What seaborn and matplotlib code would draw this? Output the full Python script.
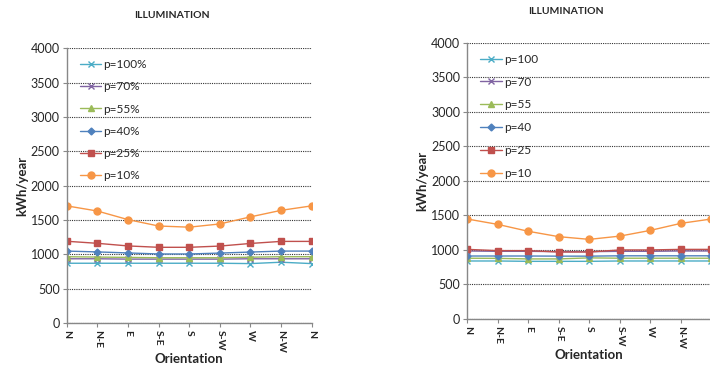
import matplotlib
matplotlib.use("Agg")
import matplotlib.pyplot as plt
import numpy as np
import seaborn as sns

# %%
orientations = ["N", "N-E", "E", "S-E", "S", "S-W", "W", "N-W", "N"]

left_labels = ["p=100%", "p=70%", "p=55%", "p=40%", "p=25%", "p=10%"]
left_p100 = [870, 870, 870, 870, 870, 870, 865, 885, 865]
left_p70 = [935, 935, 930, 930, 930, 930, 935, 935, 935]
left_p55 = [965, 960, 955, 950, 950, 950, 958, 965, 965]
left_p40 = [1047, 1035, 1020, 1005, 1005, 1018, 1033, 1047, 1047]
left_p25 = [1190, 1160, 1122, 1102, 1102, 1120, 1158, 1188, 1188]
left_p10 = [1705, 1630, 1505, 1412, 1395, 1442, 1545, 1640, 1705]

right_labels = ["p=100", "p=70", "p=55", "p=40", "p=25", "p=10"]
right_p100 = [840, 840, 835, 835, 835, 840, 840, 840, 840]
right_p70 = [985, 980, 980, 975, 975, 980, 980, 985, 985]
right_p55 = [880, 878, 870, 870, 885, 880, 880, 880, 880]
right_p40 = [912, 912, 912, 910, 910, 915, 915, 915, 915]
right_p25 = [1008, 990, 990, 970, 970, 1000, 1000, 1008, 1008]
right_p10 = [1448, 1370, 1270, 1192, 1153, 1200, 1283, 1385, 1448]

colors = ["#4BACC6", "#8064A2", "#9BBB59", "#4F81BD", "#C0504D", "#F79646"]
markers = ["x", "x", "^", "D", "s", "o"]
msizes = [4.5, 4.5, 4.5, 3.5, 5, 5]

# %%
sns.set_style("white")
plt.rcParams["font.family"] = ["Lato", "DejaVu Sans"]

fig = plt.figure(figsize=(7.1, 3.65), dpi=100)
ax_l = fig.add_axes([0.094, 0.115, 0.345, 0.753])
ax_r = fig.add_axes([0.658, 0.126, 0.344, 0.757])


def draw_panel(ax, series, labels, spacing):
    x = np.arange(len(orientations))
    for vals, lab, c, m, ms in zip(series, labels, colors, markers, msizes):
        sns.lineplot(x=x, y=vals, ax=ax, color=c, marker=m, markersize=ms,
                     markeredgecolor=c, markeredgewidth=1.0, linewidth=1.0,
                     label=lab)
    ax.set_xlim(0, len(orientations) - 1)
    ax.set_ylim(0, 4000)
    ax.set_yticks(np.arange(0, 4001, 500))
    ax.set_xticks(x)
    ax.set_xticklabels(orientations, rotation=270, fontsize=7.5, fontweight="bold")
    ax.tick_params(axis="y", labelsize=9, length=3, color="#888888", direction="out", left=True, pad=2)
    ax.tick_params(axis="x", length=3, color="#888888", direction="out", bottom=True, pad=2)
    ax.yaxis.grid(True, linestyle=(0, (1, 1)), color="#333333", linewidth=0.8)
    ax.xaxis.grid(False)
    for s in ["top", "right"]:
        ax.spines[s].set_visible(False)
    for s in ["left", "bottom"]:
        ax.spines[s].set_color("#888888")
        ax.spines[s].set_linewidth(1.0)
    ax.set_xlabel("Orientation", fontsize=9.5, fontweight="bold", labelpad=0)
    ax.set_ylabel("kWh/year", fontsize=9.5, fontweight="bold", labelpad=2)
    ax.legend(loc="upper left", frameon=False, fontsize=8.5, labelspacing=spacing,
              handlelength=1.8, handletextpad=0.2, borderaxespad=0.3,
              bbox_to_anchor=(0.02, 0.99))


draw_panel(ax_l, [left_p100, left_p70, left_p55, left_p40, left_p25, left_p10], left_labels, 0.95)
draw_panel(ax_r, [right_p100, right_p70, right_p55, right_p40, right_p25, right_p10], right_labels, 1.0)

fig.text(172 / 710, 1 - 15 / 365, "ILLUMINATION", ha="center", va="center",
         fontsize=7.5, fontweight="bold")
fig.text(566 / 710, 1 - 12 / 365, "ILLUMINATION", ha="center", va="center",
         fontsize=7.5, fontweight="bold")

fig.savefig("out.png", dpi=100)
